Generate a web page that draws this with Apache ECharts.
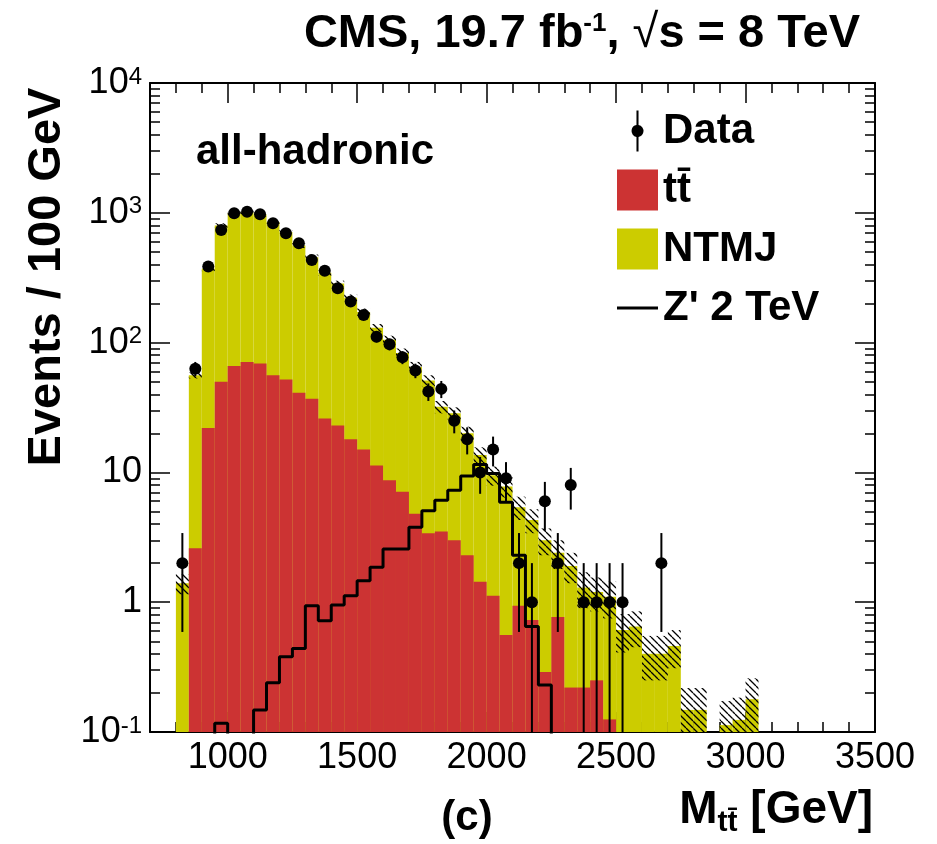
<!DOCTYPE html>
<html>
<head>
<meta charset="utf-8">
<title>CMS all-hadronic M_tt</title>
<script src="https://cdn.jsdelivr.net/npm/echarts@6/dist/echarts.min.js"></script>
<style>
  html, body { margin: 0; padding: 0; background: #fff; }
  #chart { width: 937px; height: 844px; }
</style>
</head>
<body>
<div id="chart"></div>
<script>
// bins of 50 GeV, lower edges
const binLow = [800, 850, 900, 950, 1000, 1050, 1100, 1150, 1200, 1250,
  1300, 1350, 1400, 1450, 1500, 1550, 1600, 1650, 1700, 1750,
  1800, 1850, 1900, 1950, 2000, 2050, 2100, 2150, 2200, 2250,
  2300, 2350, 2400, 2450, 2500, 2550, 2600, 2650, 2700, 2750,
  2800, 2850, 2900, 2950, 3000]
const binWidth = 50

const dataCounts = [2, 63, 385, 737, 991, 1019, 973, 830, 695, 582,
  433, 358, 262, 207, 163, 111, 97, 77, 61, 42,
  44, 25, 18, 10, 15, 9, 2, 1, 6, 2,
  8, 1, 1, 1, 1, 0, 0, 2, 0, 0,
  0, 0, 0, 0, 0]
const dataErr = [1.41, 7.94, 19.6, 27.1, 31.5, 31.9, 31.2, 28.8, 26.4, 24.1,
  20.8, 18.9, 16.2, 14.4, 12.8, 10.5, 9.85, 8.77, 7.81, 6.48,
  6.63, 5, 4.24, 3.16, 3.87, 3, 1.41, 1, 2.45, 1.41,
  2.83, 1, 1, 1, 1, 0, 0, 1.41, 0, 0,
  0, 0, 0, 0, 0]

const ttbar = [0, 2.6, 22, 50, 66, 71, 69, 56, 52, 41,
  37, 26, 23, 18, 15, 11.3, 8.7, 7.1, 4.8, 3.4,
  3.5, 3.0, 2.3, 1.44, 1.12, 0.56, 0.94, 0.73, 0.29, 0.77,
  0.22, 0.22, 0.25, 0.125, 0, 0, 0, 0, 0, 0,
  0, 0, 0, 0, 0]
const ntmj = [1.4, 53.4, 348, 750, 924, 939, 901, 794, 658, 519,
  418, 319, 262, 204, 157, 118.7, 96.3, 75.9, 60.2, 47.6,
  28.5, 25.5, 17.7, 12.16, 8.38, 7.24, 4.46, 3.57, 2.71, 1.63,
  1.68, 1.08, 0.95, 0.975, 0.61, 0.65, 0.40, 0.40, 0.46, 0.148,
  0.148, 0, 0.113, 0.124, 0.179]
const bkgErr = [0.25, 3, 15, 30, 35, 35, 35, 30, 28, 25,
  22, 18, 15, 13, 11, 9, 8, 7, 6, 5,
  3.5, 3.2, 2.5, 2, 1.6, 1.4, 1.1, 0.9, 0.7, 0.6,
  0.5, 0.4, 0.35, 0.35, 0.2, 0.2, 0.15, 0.15, 0.15, 0.07,
  0.07, 0, 0.06, 0.06, 0.08]

// Z' 2 TeV, values below 0.1 sit under the frame
const zprime = [0.05, 0.05, 0.05, 0.117, 0.05, 0.05, 0.148, 0.24, 0.38, 0.44,
  0.94, 0.72, 0.95, 1.12, 1.46, 1.86, 2.57, 2.57, 3.78, 5.07,
  6.1, 7.3, 9.4, 11.5, 9.8, 5.9, 2.3, 0.65, 0.23, 0.05,
  0.05, 0.05, 0.05, 0.05, 0.05, 0.05, 0.05, 0.05, 0.05, 0.05,
  0.05, 0.05, 0.05, 0.05, 0.05]

const xMajorTicks = [1000, 1500, 2000, 2500, 3000, 3500]
const xMinorTicks = [800, 900, 1100, 1200, 1300, 1400, 1600, 1700, 1800, 1900,
  2100, 2200, 2300, 2400, 2600, 2700, 2800, 2900, 3100, 3200, 3300, 3400]
const yMinorTicks = [0.2, 0.3, 0.4, 0.5, 0.6, 0.7, 0.8, 0.9,
  2, 3, 4, 5, 6, 7, 8, 9,
  20, 30, 40, 50, 60, 70, 80, 90,
  200, 300, 400, 500, 600, 700, 800, 900,
  2000, 3000, 4000, 5000, 6000, 7000, 8000, 9000]

const X_MIN = 700
const X_MAX = 3500
const Y_MIN = 0.1
const Y_MAX = 10000
const FONT = "'Liberation Sans', Arial, Helvetica, sans-serif"
const RED = '#cc3333'
const YELLOW = '#cccc00'

// 斜线填充
function makeHatch() {
  const s = 7
  const c = document.createElement('canvas')
  c.width = s
  c.height = s
  const ctx = c.getContext('2d')
  ctx.strokeStyle = '#000'
  ctx.lineWidth = 1.3
  ctx.beginPath()
  for (const o of [-s, 0, s]) {
    ctx.moveTo(o, 0)
    ctx.lineTo(o + s, s)
  }
  ctx.stroke()
  return c
}
const hatch = { image: makeHatch(), repeat: 'repeat' }

const totalData = binLow
  .map((lo, i) => [lo, lo + binWidth, ttbar[i] + ntmj[i]])
  .filter((d) => d[2] > 0)
const ttData = binLow
  .map((lo, i) => [lo, lo + binWidth, ttbar[i]])
  .filter((d) => d[2] > 0)
const bandData = binLow
  .map((lo, i) => {
    const t = ttbar[i] + ntmj[i]
    return [lo, lo + binWidth, t - bkgErr[i], t + bkgErr[i]]
  })
  .filter((d) => d[3] > 0)
const pointData = binLow
  .map((lo, i) => [lo + binWidth / 2, dataCounts[i], dataErr[i]])
  .filter((d) => d[1] > 0)
const zData = binLow.map((lo, i) => [lo, zprime[i]])
zData.push([binLow[binLow.length - 1] + binWidth, zprime[zprime.length - 1]])

function renderBar(params, api) {
  const p0 = api.coord([api.value(0), api.value(2)])
  const p1 = api.coord([api.value(1), Y_MIN])
  return {
    type: 'rect',
    shape: { x: p0[0], y: p0[1], width: p1[0] - p0[0], height: p1[1] - p0[1] },
    style: { fill: api.visual('color') },
  }
}

function renderBand(params, api) {
  const lowVal = Math.max(api.value(2), Y_MIN)
  const p0 = api.coord([api.value(0), api.value(3)])
  const p1 = api.coord([api.value(1), lowVal])
  return {
    type: 'rect',
    shape: { x: p0[0], y: p0[1], width: p1[0] - p0[0], height: p1[1] - p0[1] },
    style: { fill: hatch },
  }
}

function renderPoint(params, api) {
  const x = api.value(0)
  const v = api.value(1)
  const e = api.value(2)
  const c = api.coord([x, v])
  const top = api.coord([x, v + e])
  const bottom = api.coord([x, v - e > 0 ? v - e : Y_MIN])
  return {
    type: 'group',
    children: [
      {
        type: 'line',
        shape: { x1: c[0], y1: top[1], x2: c[0], y2: bottom[1] },
        style: { stroke: '#000', lineWidth: 2 },
      },
      {
        type: 'circle',
        shape: { cx: c[0], cy: c[1], r: 6 },
        style: { fill: '#000' },
      },
    ],
  }
}

function yLabel(v) {
  const e = Math.round(Math.log10(v))
  if (e === 0) return '1'
  if (e === 1) return '10'
  return '10{sup|' + e + '}'
}

const tickLine = { color: '#000', width: 1.5 }
const frameLine = { show: true, onZero: false, lineStyle: { color: '#000', width: 2 } }

function xAxisDef(position, ticks, length, showLine, showLabel) {
  return {
    type: 'value',
    position: position,
    min: X_MIN,
    max: X_MAX,
    axisLine: showLine ? frameLine : { show: false },
    axisTick: { show: true, inside: true, length: length, customValues: ticks, lineStyle: tickLine },
    axisLabel: showLabel
      ? {
          customValues: ticks,
          margin: 8,
          fontSize: 36,
          color: '#000',
          fontFamily: FONT,
          formatter: (v) => String(Math.round(v)),
        }
      : { show: false },
    splitLine: { show: false },
  }
}

function yAxisDef(position, ticks, length, showLine, showLabel) {
  const axis = {
    type: 'log',
    logBase: 10,
    position: position,
    min: Y_MIN,
    max: Y_MAX,
    axisLine: showLine ? frameLine : { show: false },
    axisTick: { show: true, inside: true, length: length, lineStyle: tickLine },
    axisLabel: showLabel
      ? {
          margin: 8,
          fontSize: 36,
          lineHeight: 36,
          color: '#000',
          fontFamily: FONT,
          formatter: yLabel,
          rich: {
            sup: { fontSize: 24, lineHeight: 20, verticalAlign: 'top', color: '#000', fontFamily: FONT },
          },
        }
      : { show: false },
    splitLine: { show: false },
    minorTick: { show: false },
  }
  if (ticks) axis.axisTick.customValues = ticks
  return axis
}

const chart = echarts.init(document.getElementById('chart'), null, { renderer: 'canvas' })

const option = {
  animation: false,
  backgroundColor: '#fff',
  grid: { left: 150, right: 62, top: 83, bottom: 112, containLabel: false, outerBoundsMode: 'none' },
  xAxis: [
    xAxisDef('bottom', xMajorTicks, 20, true, true),
    xAxisDef('bottom', xMinorTicks, 10, false, false),
    xAxisDef('top', xMajorTicks, 20, true, false),
    xAxisDef('top', xMinorTicks, 10, false, false),
  ],
  yAxis: [
    yAxisDef('left', null, 20, true, true),
    yAxisDef('left', yMinorTicks, 10, false, false),
    yAxisDef('right', null, 20, true, false),
    yAxisDef('right', yMinorTicks, 10, false, false),
  ],
  legend: {
    left: 612,
    top: 105,
    orient: 'vertical',
    itemWidth: 41,
    itemHeight: 41,
    itemGap: 17,
    selectedMode: false,
    textStyle: { fontSize: 42, lineHeight: 41, fontWeight: 'bold', color: '#000', fontFamily: FONT },
    data: [
      {
        name: 'Data',
        icon: 'path://M-0.45,0H0.45V6.4A2.64,2.64 0 0 1 0.45,11.6V18H-0.45V11.6A2.64,2.64 0 0 1 -0.45,6.4Z',
      },
      { name: 't\u0074\u0304', icon: 'rect' },
      { name: 'NTMJ', icon: 'rect' },
      { name: "Z' 2 TeV", icon: 'path://M0,0H41V3H0Z' },
    ],
  },
  graphic: [
    {
      type: 'text',
      right: 77,
      top: 11,
      style: {
        text: 'CMS, 19.7 fb{sup|-1}, {rt|\u221a}s = 8 TeV',
        fontSize: 47,
        fontWeight: 'bold',
        fontFamily: FONT,
        fill: '#000',
        rich: {
          sup: { fontSize: 26, fontWeight: 'bold', fontFamily: FONT, verticalAlign: 'top', lineHeight: 24 },
          rt: { fontSize: 47, fontWeight: 'normal', fontFamily: FONT },
        },
      },
    },
    {
      type: 'text',
      x: 196,
      y: 152,
      style: {
        text: 'all-hadronic',
        fontSize: 42,
        fontWeight: 'bold',
        fontFamily: FONT,
        fill: '#000',
        verticalAlign: 'middle',
      },
    },
    {
      type: 'text',
      x: 47,
      y: 277,
      rotation: Math.PI / 2,
      style: {
        text: 'Events / 100 GeV',
        fontSize: 47,
        fontWeight: 'bold',
        fontFamily: FONT,
        fill: '#000',
        align: 'center',
        verticalAlign: 'middle',
      },
    },
    {
      type: 'text',
      x: 467,
      y: 818,
      style: {
        text: '(c)',
        fontSize: 42,
        fontWeight: 'bold',
        fontFamily: FONT,
        fill: '#000',
        align: 'center',
        verticalAlign: 'middle',
      },
    },
    {
      type: 'text',
      right: 64,
      top: 782,
      style: {
        text: 'M{sub|t\u0074\u0304} [GeV]',
        fontSize: 46,
        fontWeight: 'bold',
        fontFamily: FONT,
        fill: '#000',
        lineHeight: 56,
        rich: {
          sub: { fontSize: 30, fontWeight: 'bold', fontFamily: FONT, verticalAlign: 'bottom', lineHeight: 30 },
        },
      },
    },
  ],
  series: [
    {
      name: 'NTMJ',
      type: 'custom',
      renderItem: renderBar,
      data: totalData,
      encode: { x: [0, 1], y: 2 },
      itemStyle: { color: YELLOW },
      clip: true,
      z: 1,
    },
    {
      name: 't\u0074\u0304',
      type: 'custom',
      renderItem: renderBar,
      data: ttData,
      encode: { x: [0, 1], y: 2 },
      itemStyle: { color: RED },
      clip: true,
      z: 2,
    },
    {
      name: 'unc',
      type: 'custom',
      renderItem: renderBand,
      data: bandData,
      encode: { x: [0, 1], y: [2, 3] },
      itemStyle: { color: '#000' },
      clip: true,
      silent: true,
      z: 3,
    },
    {
      name: "Z' 2 TeV",
      type: 'line',
      step: 'end',
      data: zData,
      symbol: 'none',
      lineStyle: { color: '#000', width: 3 },
      itemStyle: { color: '#000' },
      clip: true,
      z: 4,
    },
    {
      name: 'Data',
      type: 'custom',
      renderItem: renderPoint,
      data: pointData,
      encode: { x: 0, y: 1 },
      itemStyle: { color: '#000' },
      clip: true,
      z: 5,
    },
  ],
}

chart.setOption(option)
</script>
</body>
</html>
